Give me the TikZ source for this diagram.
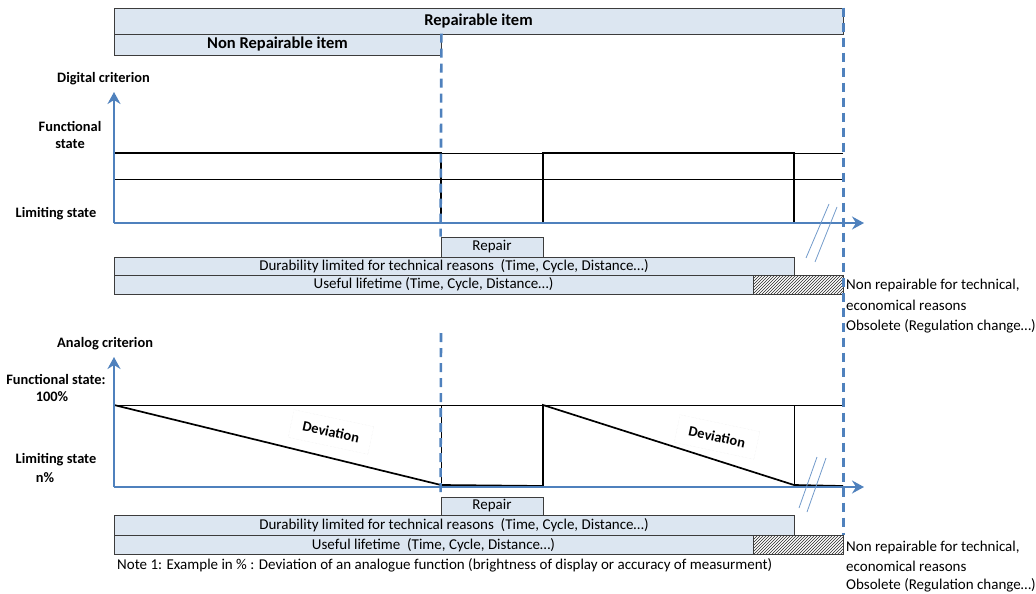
\documentclass[tikz,border=0pt]{standalone}
\usepackage{fontspec}
\setmainfont{Carlito}
\usetikzlibrary{arrows.meta,patterns}

\definecolor{axisblue}{HTML}{4F81BD}
\definecolor{barfill}{HTML}{DCE6F1}
\definecolor{barline}{HTML}{3C3C3C}

\begin{document}
\begin{tikzpicture}[
  x=1pt, y=-1pt,
  font=\fontsize{15}{17}\selectfont,
  bar/.style={
    draw=barline,
    fill=barfill,
    line width=0.9pt,
    inner sep=0pt
  },
  hatchbar/.style={
    draw=barline,
    line width=0.9pt,
    pattern=north east lines,
    pattern color=black!85,
    inner sep=0pt
  },
  label/.style={font=\fontsize{14.4}{17}\selectfont\bfseries, align=center, inner sep=0pt},
  sidenote/.style={anchor=west, inner sep=0pt},
  axis/.style={-{Stealth[length=12pt,width=13pt,inset=4pt]}, draw=axisblue, line width=2.6pt},
  border/.style={draw=axisblue, line width=2.6pt, dash pattern=on 9pt off 6pt},
  refline/.style={draw=black, line width=0.9pt},
  signal/.style={draw=black, line width=1.7pt},
  breakmark/.style={draw=axisblue!80, line width=0.8pt},
  devtext/.style={rotate=-12, draw=black!8, densely dotted, inner xsep=12pt, inner ysep=9pt, font=\fontsize{14.4}{16}\selectfont\bfseries}
]
\useasboundingbox (0,0) rectangle (1036,594);

% item headers
\node[bar, minimum width=729pt, minimum height=26pt, font=\fontsize{16.5}{18}\selectfont\bfseries] (repItem) at (478.5,21) {Repairable item};
\node[bar, minimum width=327pt, minimum height=21pt, font=\fontsize{16.5}{18}\selectfont\bfseries] (nonRepItem) at (277.5,44.5) {Non Repairable item};

% digital criterion
\node[label, anchor=west] (digTitle) at (57,79) {Digital criterion};
\node[label] (digFunc) at (70,135) {Functional\\state};
\node[label] (digLimit) at (56,214) {Limiting state};

\draw[refline] (114,153) -- (843,153);
\draw[refline] (114,179) -- (843,179);
\draw[signal] (114,153) -- (441,153) -- (441,223) -- (543,223) -- (543,153) -- (794,153) -- (794,223) -- (843,223);

\coordinate (digOrigin) at (114,223);
\coordinate (digTop) at (114,92);
\coordinate (digEnd) at (864,223);
\draw[axis] (digOrigin) -- (digTop);
\draw[axis] (digOrigin) -- (digEnd);

\draw[breakmark] (829,204) -- (806,258);
\draw[breakmark] (837,207) -- (815,262);

\node[bar, minimum width=102pt, minimum height=20pt] (digRepair) at (492,247) {Repair};
\node[bar, minimum width=680pt, minimum height=18pt] (digDurab) at (454,266) {Durability limited for technical reasons\ \ (Time, Cycle, Distance…)};
\node[bar, minimum width=639pt, minimum height=19pt] (digLife) at (433.5,284.5) {Useful lifetime (Time, Cycle, Distance…)};
\node[hatchbar, minimum width=90pt, minimum height=19pt] (digHatch) at (798,284.5) {};

\node[sidenote] (digNote1) at (846,285) {Non repairable for technical,};
\node[sidenote] (digNote2) at (846,305) {economical reasons};
\node[sidenote] (digNote3) at (846,326) {Obsolete (Regulation change…)};

% analog criterion
\node[label, anchor=west] (anaTitle) at (57,344) {Analog criterion};
\node[label] (anaFunc) at (56,379) {Functional state:};
\node[label] (anaFull) at (52,397) {100\%};
\node[label] (anaLimit) at (56,460) {Limiting state};
\node[label] (anaPct) at (45,478) {n\%};

\draw[refline] (114,405) -- (843,405);
\draw[refline, line width=0.6pt] (441,405) -- (441,487);
\draw[refline, line width=0.6pt] (794,405) -- (794,487);
\draw[signal] (114,405) -- (441,485) -- (543,486) -- (543,405) -- (794,485) -- (843,486);

\node[devtext] (dev1) at (331,432) {Deviation};
\node[devtext] (dev2) at (717,437) {Deviation};

\coordinate (anaOrigin) at (114,487);
\coordinate (anaTop) at (114,357);
\coordinate (anaEnd) at (864,487);
\draw[axis] (anaOrigin) -- (anaTop);
\draw[axis] (anaOrigin) -- (anaEnd);

\draw[breakmark] (817,457) -- (799,508);
\draw[breakmark] (826,458) -- (807,512);

\node[bar, minimum width=102pt, minimum height=18pt] (anaRepair) at (492,506) {Repair};
\node[bar, minimum width=680pt, minimum height=20pt] (anaDurab) at (454,525) {Durability limited for technical reasons\ \ (Time, Cycle, Distance…)};
\node[bar, minimum width=639pt, minimum height=19pt] (anaLife) at (433.5,545) {Useful lifetime\ \ (Time, Cycle, Distance…)};
\node[hatchbar, minimum width=90pt, minimum height=19pt] (anaHatch) at (798,545) {};

\node[sidenote] (anaNote1) at (846,547) {Non repairable for technical,};
\node[sidenote] (anaNote2) at (846,566) {economical reasons};
\node[sidenote] (anaNote3) at (846,585) {Obsolete (Regulation change…)};

\node[sidenote] (footNote) at (117,565) {Note 1: Example in \% : Deviation of an analogue function (brightness of display or accuracy of measurment)};

% limits of the items
\draw[border] (nonRepItem.north east) -- (digRepair.north west);
\draw[border] (441,333) -- (anaRepair.north west);
\draw[border] (repItem.north east) -- (anaHatch.north east);

\end{tikzpicture}
\end{document}
